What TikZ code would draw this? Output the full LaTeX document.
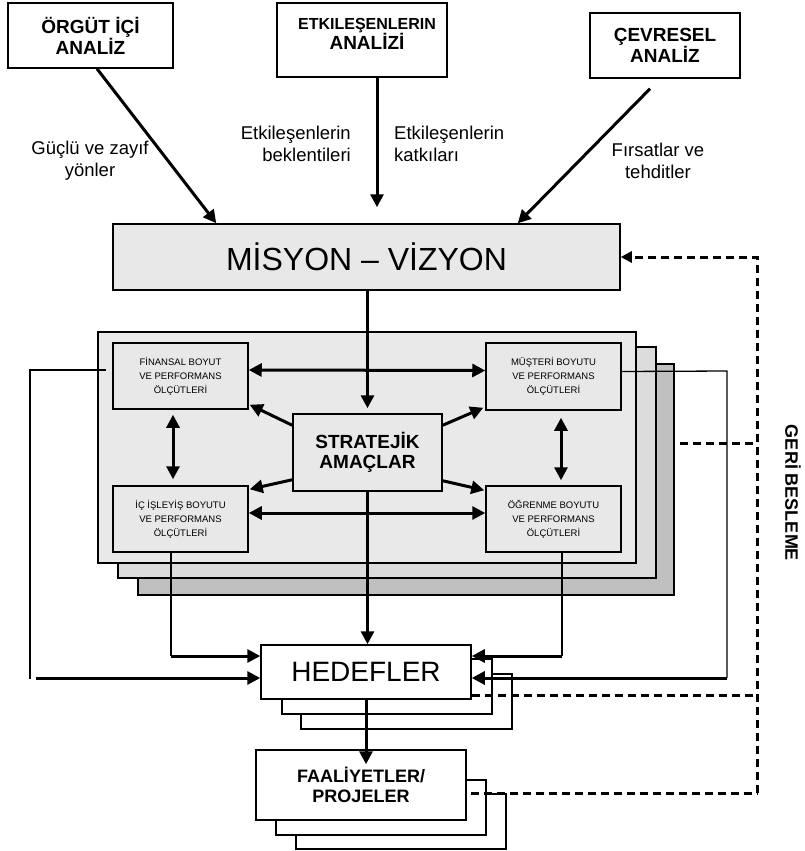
\documentclass[tikz,border=0pt]{standalone}
\usepackage{fontspec}
\setmainfont{Liberation Sans}
\usetikzlibrary{arrows.meta,calc}

\definecolor{boxgray}{HTML}{E8E8E8}
\definecolor{layerA}{HTML}{E9E9E9}
\definecolor{layerB}{HTML}{DCDCDC}
\definecolor{layerC}{HTML}{C0C0C0}

\tikzset{
  box/.style={draw, line width=1.5pt, inner sep=0pt, align=center},
  graybox/.style={box, fill=boxgray},
  whitebox/.style={box, fill=white},
  layer/.style={draw, line width=1.5pt},
  arr/.style={line width=3pt, -{Triangle[length=13pt,width=13pt]}},
  dblarr/.style={line width=3pt, {Triangle[length=13pt,width=13pt]}-{Triangle[length=13pt,width=13pt]}},
  thinline/.style={line width=1.3pt},
  feedback/.style={line width=3pt, dash pattern=on 8pt off 5pt},
  toptext/.style={font=\fontsize{19}{20}\selectfont\bfseries, align=center, inner sep=0pt},
  lbl/.style={font=\fontsize{18.5}{22}\selectfont, inner sep=0pt},
  small/.style={font=\fontsize{9.5}{14}\selectfont},
}

\begin{document}
\begin{tikzpicture}[x=1pt,y=-1pt]
\useasboundingbox (0,0) rectangle (804,851);

% analysis boxes along the top
\node[box, minimum width=165pt, minimum height=65pt, toptext] (org) at (90.5,35.5) {ÖRGÜT İÇİ\\ANALİZ};
\node[box, minimum width=170pt, minimum height=74pt] (etk) at (362,40) {};
\node[toptext] (etktxt) at (367,34) {{\fontsize{16}{20}\selectfont ETKILEŞENLERIN}\\ANALİZİ};
\node[box, minimum width=150pt, minimum height=65pt, toptext] (cev) at (665,45.5) {ÇEVRESEL\\ANALİZ};

% mission / vision
\node[graybox, minimum width=507pt, minimum height=66pt, font=\fontsize{32}{34}\selectfont] (mis) at (366.5,257) {MİSYON – VİZYON};

% flow labels
\node[lbl, align=center] (l1) at (90,161) {Güçlü ve zayıf\\yönler};
\node[lbl, align=right, anchor=east] (l2) at (351,144) {Etkileşenlerin\\beklentileri};
\node[lbl, align=left, anchor=west] (l3) at (394,144) {Etkileşenlerin\\katkıları};
\node[lbl, align=center] (l4) at (658,161) {Fırsatlar ve\\tehditler};

% arrows into the mission box
\draw[arr] ($(org.south)+(6.5,0)$) -- ($(mis.north west)+(104,0)$);
\draw[arr] ($(etk.south)+(15,0)$) -- ($(mis.north)+(10.5,-16)$);
\draw[arr] ($(cev.south)+(-15,10)$) -- ($(mis.north east)+(-103,0)$);

% stacked panel of balanced scorecard perspectives
\draw[layer, fill=layerC] (138,364) rectangle (674,595);
\draw[layer, fill=layerB] (118,347) rectangle (656,578);
\draw[layer, fill=layerA] (98,332) rectangle (636,563);

\node[graybox, minimum width=135pt, minimum height=66pt, small] (fin) at (180.5,376) {FİNANSAL BOYUT\\VE PERFORMANS\\ÖLÇÜTLERİ};
\node[graybox, minimum width=135pt, minimum height=67pt, small] (mus) at (553.5,376.5) {MÜŞTERİ BOYUTU\\VE PERFORMANS\\ÖLÇÜTLERİ};
\node[graybox, minimum width=135pt, minimum height=66pt, small] (ic) at (180.5,519) {İÇ İŞLEYİŞ BOYUTU\\VE PERFORMANS\\ÖLÇÜTLERİ};
\node[graybox, minimum width=135pt, minimum height=66pt, small] (ogr) at (553.5,519) {ÖĞRENME BOYUTU\\VE PERFORMANS\\ÖLÇÜTLERİ};
\node[graybox, minimum width=149pt, minimum height=77pt, font=\fontsize{19}{20}\selectfont\bfseries] (strat) at (367.5,452.5) {STRATEJİK\\AMAÇLAR};

% thin connector from the financial box round the left side
\coordinate (lc1) at (30,370);
\coordinate (lc2) at (30,679);
\draw[thinline] ($(fin.west)+(-6,-6)$) -- (lc1) -- (lc2);

% links inside the panel
\draw[arr] (strat.north |- mis.south) -- ($(strat.north)+(0,-5)$);
\draw[dblarr] ($(fin.east)+(0,-6)$) -- ($(mus.west)+(0,-6)$);
\draw[dblarr] ($(ic.east)+(0,-6)$) -- ($(ogr.west)+(0,-6)$);
\draw[dblarr] ($(fin.south)+(-7.5,5)$) -- ($(ic.north)+(-7.5,-6)$);
\draw[dblarr] ($(mus.south)+(7.5,7)$) -- ($(ogr.north)+(7.5,-5)$);
\draw[arr] ($(strat.north west)+(0,12)$) -- ($(fin.south east)+(1,-5)$);
\draw[arr] ($(strat.south west)+(0,-12)$) -- ($(ic.north east)+(1,4)$);
\draw[arr] ($(strat.north east)+(0,12)$) -- ($(mus.south west)+(-2,-3)$);
\draw[arr] ($(strat.south east)+(0,-11)$) -- ($(ogr.north west)+(-1,5)$);

% goals with stacked copies
\draw[box, fill=white] (301,674) rectangle (512,729);
\draw[box, fill=white] (282,659) rectangle (492,714);
\node[whitebox, minimum width=210pt, minimum height=54pt, font=\fontsize{28}{30}\selectfont] (hed) at (366,672) {HEDEFLER};

% activities / projects with stacked copies
\draw[box, fill=white] (296,794) rectangle (506,849);
\draw[box, fill=white] (276,780) rectangle (486,835);
\node[whitebox, minimum width=210pt, minimum height=70pt, font=\fontsize{18}{20}\selectfont\bfseries] (faal) at (361,785) {FAALİYETLER/\\PROJELER};

% strategic goals down to targets, targets down to activities
\draw[arr] (strat.south) -- (strat.south |- hed.north);
\draw[arr] (hed.south) -- ($(hed.south |- faal.north)+(0,15)$);

% perspective outputs feeding the targets
\coordinate (icc) at (171,656);
\draw[thinline] ($(ic.south)+(-9.5,0)$) -- (icc);
\draw[arr] (icc) -- ($(hed.west)+(0,-16)$);
\coordinate (lc3) at (36,678);
\draw[arr] (lc3) -- ($(hed.west)+(0,6)$);

\coordinate (ogc) at (562,656);
\draw[thinline] ($(ogr.south)+(8.5,0)$) -- (ogc);
\draw[arr] (ogc) -- ($(hed.east)+(0,-16)$);
\coordinate (rc1) at (727,371);
\coordinate (rc2) at (727,678);
\draw[thinline] ($(mus.east)+(0,-5)$) -- (rc1) -- (rc2);
\draw[arr] (rc2) -- ($(hed.east)+(0,6)$);

% feedback loop
\coordinate (fbtop) at (757,257);
\coordinate (fbmid) at (757,443);
\coordinate (fbhed) at (757,695);
\coordinate (fbbot) at (757,793);
\draw[feedback] (680,443) -- (fbmid);
\draw[feedback] ($(hed.east)+(0,23)$) -- (fbhed);
\draw[feedback] ($(faal.east)+(4,8)$) -- (fbbot);
\draw[feedback, -{Triangle[length=11pt,width=11pt]}] (fbbot) -- (fbtop) -- (mis.east);

\node[font=\fontsize{18}{20}\selectfont\bfseries, rotate=-90] (geri) at (793,493) {GERİ BESLEME};
\end{tikzpicture}
\end{document}
